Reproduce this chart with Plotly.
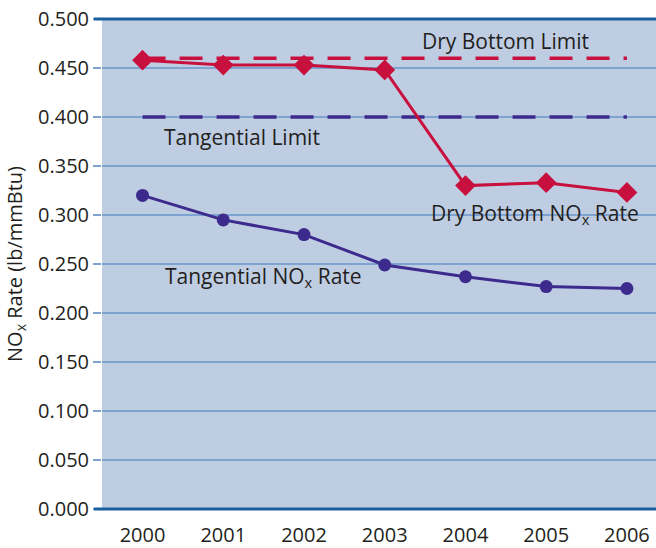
import plotly.graph_objects as go

years = [2000, 2001, 2002, 2003, 2004, 2005, 2006]
dry_bottom_rate = [0.458, 0.453, 0.453, 0.448, 0.330, 0.333, 0.323]
tangential_rate = [0.320, 0.295, 0.280, 0.249, 0.237, 0.227, 0.225]
dry_bottom_limit = [0.46] * len(years)
tangential_limit = [0.40] * len(years)
y_ticks = [0.0, 0.05, 0.10, 0.15, 0.20, 0.25, 0.30, 0.35, 0.40, 0.45, 0.50]

RED = "#C8103E"
PURPLE = "#3C2A8C"
GRID = "#7FA3D0"
AXIS = "#1B5E9E"
FONT = "'Open Sans', Lato, sans-serif"
TXT = "#231F20"
FS = 20
FA = 21

fig = go.Figure()
fig.add_trace(go.Scatter(x=years, y=dry_bottom_limit, mode="lines",
                         line=dict(color=RED, width=3.5, dash="23px,14px"),
                         hoverinfo="skip"))
fig.add_trace(go.Scatter(x=years, y=tangential_limit, mode="lines",
                         line=dict(color=PURPLE, width=3.5, dash="23px,14px"),
                         hoverinfo="skip"))
fig.add_trace(go.Scatter(x=years, y=dry_bottom_rate, mode="lines+markers",
                         line=dict(color=RED, width=3),
                         marker=dict(symbol="diamond", size=16, color=RED)))
fig.add_trace(go.Scatter(x=years, y=tangential_rate, mode="lines+markers",
                         line=dict(color=PURPLE, width=3),
                         marker=dict(symbol="circle", size=13, color=PURPLE)))

ann_font = dict(family=FONT, size=FA, color=TXT)
fig.add_annotation(x=2004.50, y=0.478, text="Dry Bottom Limit", showarrow=False, font=ann_font)
fig.add_annotation(x=2001.23, y=0.380, text="Tangential Limit", showarrow=False, font=ann_font)
fig.add_annotation(x=2004.86, y=0.301, text="Dry Bottom NO<sub>x</sub> Rate", showarrow=False, font=ann_font)
fig.add_annotation(x=2001.50, y=0.237, text="Tangential NO<sub>x</sub> Rate", showarrow=False, font=ann_font)

fig.add_shape(type="line", xref="paper", yref="paper", x0=-0.0145, x1=1, y0=1, y1=1,
              line=dict(color=AXIS, width=3))
fig.add_shape(type="line", xref="paper", yref="paper", x0=-0.0145, x1=1, y0=0, y1=0,
              line=dict(color=AXIS, width=3))

fig.update_layout(
    width=656, height=548,
    margin=dict(l=102, r=0, t=19, b=36),
    plot_bgcolor="#BFCDE3", paper_bgcolor="white",
    showlegend=False,
    font=dict(family=FONT, size=FS, color=TXT),
    xaxis=dict(range=[1999.498, 2006.36], tickvals=years, ticktext=[str(y) for y in years],
               showgrid=False, zeroline=False, ticks="outside", ticklen=8,
               tickcolor="rgba(0,0,0,0)", tickfont=dict(size=FS, color=TXT)),
    yaxis=dict(range=[0, 0.5], tickvals=y_ticks, tickformat=".3f",
               showgrid=True, gridcolor=GRID, gridwidth=1.5, zeroline=False,
               ticks="outside", ticklen=8, tickcolor=GRID, tickwidth=1.5,
               ticklabeloverflow="allow",
               tickfont=dict(size=FS, color=TXT),
               title=dict(text="NO<sub>x</sub> Rate (lb/mmBtu)", font=dict(size=FS, color=TXT),
                          standoff=10)),
)

# remove the default 8px page margin so the figure sits at the window's top-left corner
fig.write_html("out.html", config={"displayModeBar": False},
               post_script="document.body.style.margin='0';document.body.style.padding='0';")
